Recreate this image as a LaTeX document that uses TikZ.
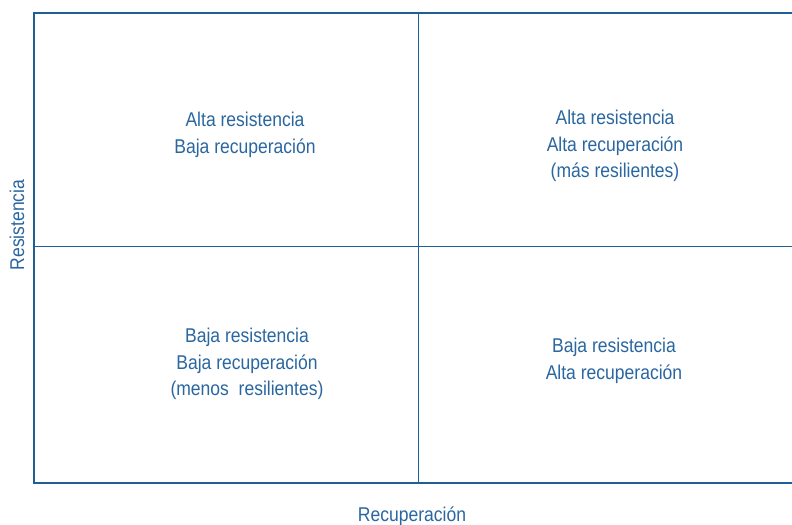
\documentclass[tikz,border=0pt]{standalone}
\usepackage{fontspec}
\setmainfont{Liberation Sans}[FakeStretch=0.88]
\usepackage{tikz}
\usetikzlibrary{positioning}
\definecolor{ejes}{RGB}{31,95,150}
\definecolor{texto}{RGB}{42,102,160}

\begin{document}
\begin{tikzpicture}[x=1bp, y=-1bp,
    cuadro/.style={align=center, text=texto, font=\fontsize{20}{26.5}\selectfont, inner sep=0pt},
    eje/.style={text=texto, font=\fontsize{20}{22}\selectfont, inner sep=0pt}]
            \useasboundingbox (0,0) rectangle (792,525);
            % Esquinas
            \coordinate (o) at (34,483);
            \coordinate (n) at (34,13);
            \coordinate (e) at (792,483);
            \coordinate (ne) at (792,13);
            \coordinate (mx1) at (418,13);
            \coordinate (mx2) at (418,483);
            \coordinate (my1) at (34,247);
            \coordinate (my2) at (792,247);

            % Nodos
            \node[cuadro] (ar) at (245,135) {Alta resistencia\\Baja recuperaci\'on};
            \node[cuadro] (aa) at (615,146) {Alta resistencia\\Alta recuperaci\'on\\(m\'as resilientes)};
            \node[cuadro] (bb) at (247,364) {Baja resistencia\\Baja recuperaci\'on\\(menos\ \ resilientes)};
            \node[cuadro] (ba) at (614,361) {Baja resistencia\\Alta recuperaci\'on};
            \node[eje] (rec) at (412,516) {Recuperaci\'on};
            \node[eje, rotate=90] (res) at (17,225) {Resistencia};

            % Lineas
            \draw[ejes, line width=1bp] (mx1) -- (mx2);
            \draw[ejes, line width=1bp] (my1) -- (my2);
            \draw[ejes, line width=2.4bp] (ne) -- (n) -- (o) -- (e);
          \end{tikzpicture}
\end{document}
